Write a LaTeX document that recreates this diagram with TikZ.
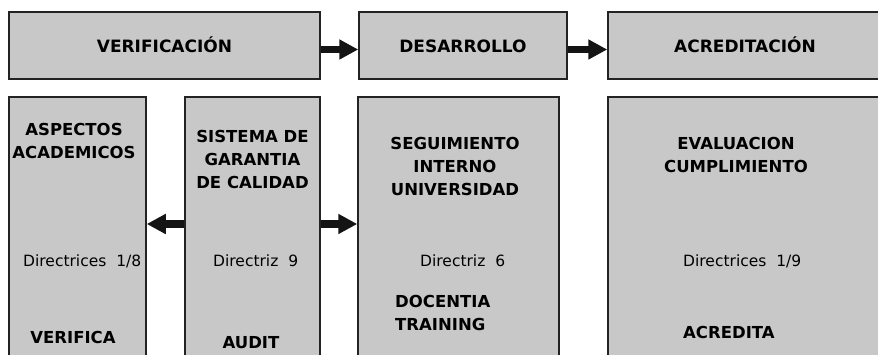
\documentclass[tikz,border=0pt]{standalone}
\usepackage{fontspec}
\setmainfont{DejaVu Sans}
\usetikzlibrary{arrows.meta}
\definecolor{boxgray}{RGB}{200,200,200}
\definecolor{boxline}{RGB}{35,35,35}
\tikzset{
  box/.style={draw=boxline, line width=1.5pt, fill=boxgray, inner sep=0pt},
  title/.style={font=\fontsize{17}{20}\selectfont\bfseries, text height=15pt, text depth=0pt},
  head/.style={font=\fontsize{16.5}{23}\selectfont\bfseries, align=center, inner sep=0pt, anchor=north},
  note/.style={font=\fontsize{15.5}{18}\selectfont, inner sep=0pt, anchor=base west},
  tag/.style={font=\fontsize{16.5}{23.5}\selectfont\bfseries, inner sep=0pt},
  fat/.style={line width=7.5pt, color=black!92, -{Triangle[length=19pt,width=19pt]}},
}
\begin{document}
\begin{tikzpicture}[x=1pt,y=-1pt]
        \useasboundingbox (0,0) rectangle (878,355);
        \clip (0,0) rectangle (878,355);

        % top row
        \node[box, title, minimum width=311, minimum height=67] (ver) at (164.5,45.5) {VERIFICACIÓN};
        \node[box, title, minimum width=208, minimum height=67] (des) at (463,45.5) {DESARROLLO};
        \node[box, title, minimum width=274, minimum height=67] (acr) at (745,45.5) {ACREDITACIÓN};

        % bottom row
        \node[box, minimum width=137, minimum height=283] (asp) at (77.5,238.5) {};
        \node[box, minimum width=135, minimum height=283] (sgc) at (252.5,238.5) {};
        \node[box, minimum width=201, minimum height=283] (seg) at (458.5,238.5) {};
        \node[box, minimum width=274, minimum height=283] (eva) at (745,238.5) {};

        \node[head] (aspt) at (74,123) {ASPECTOS\\ACADEMICOS};
        \node[note] (aspd) at (23,267) {Directrices~~1/8};
        \node[tag, anchor=base] (aspv) at (73,343) {VERIFICA};

        \node[head] (sgct) at (252.5,130) {SISTEMA DE\\GARANTIA\\DE CALIDAD};
        \node[note] (sgcd) at (213,267) {Directriz~~9};
        \node[tag, anchor=base] (sgca) at (251,348) {AUDIT};

        \node[head] (segt) at (455,137) {SEGUIMIENTO\\INTERNO\\UNIVERSIDAD};
        \node[note] (segd) at (420,267) {Directriz~~6};
        \node[tag, anchor=north west, align=left] (segp) at (395,295) {DOCENTIA\\TRAINING};

        \node[head] (evat) at (736,137) {EVALUACION\\CUMPLIMIENTO};
        \node[note] (evad) at (683,267) {Directrices~~1/9};
        \node[tag, anchor=base west] (evaa) at (683,338) {ACREDITA};

        % arrows
        \draw[fat] (ver.east |- 0,49.5) -- (des.west |- 0,49.5);
        \draw[fat] (des.east |- 0,49.5) -- (acr.west |- 0,49.5);
        \draw[fat] (sgc.west |- 0,224) -- (asp.east |- 0,224);
        \draw[fat] (sgc.east |- 0,224) -- (seg.west |- 0,224);
\end{tikzpicture}
\end{document}
